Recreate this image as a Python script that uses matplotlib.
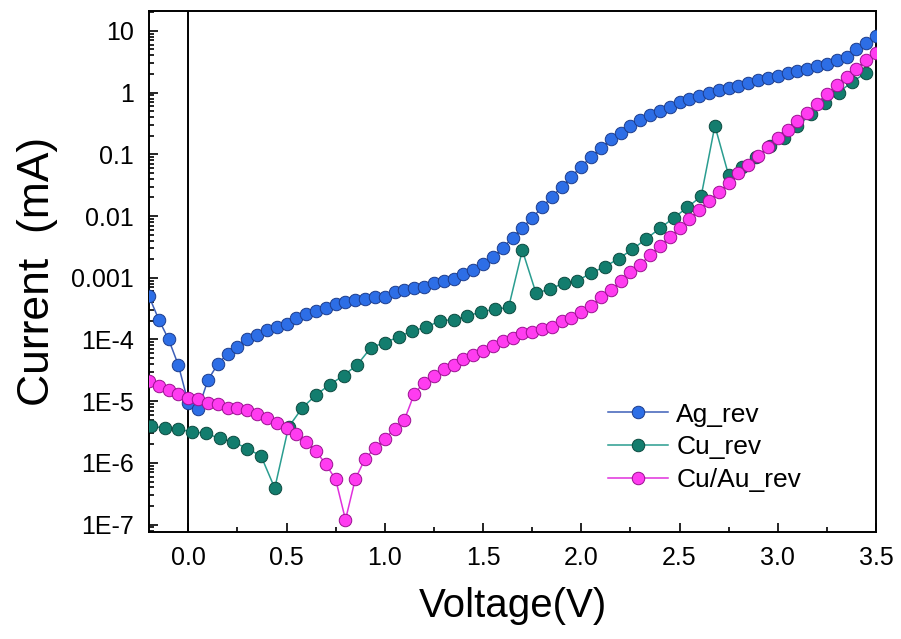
import matplotlib
matplotlib.use("Agg")
import matplotlib.pyplot as plt
from matplotlib.ticker import FixedLocator, FixedFormatter, LogLocator, NullFormatter, MultipleLocator

plt.rcParams['font.family'] = ['Liberation Sans', 'DejaVu Sans']

# ---------------- data (voltage in V, current in mA) ----------------
voltage_ag = [-0.20, -0.15, -0.10, -0.05, 0.00, 0.05, 0.10, 0.15, 0.20, 0.25,
              0.30, 0.35, 0.40, 0.45, 0.50, 0.55, 0.60, 0.65, 0.70, 0.75,
              0.80, 0.85, 0.90, 0.95, 1.00, 1.05, 1.10, 1.15, 1.20, 1.25,
              1.30, 1.35, 1.40, 1.45, 1.50, 1.55, 1.60, 1.65, 1.70, 1.75,
              1.80, 1.85, 1.90, 1.95, 2.00, 2.05, 2.10, 2.15, 2.20, 2.25,
              2.30, 2.35, 2.40, 2.45, 2.50, 2.55, 2.60, 2.65, 2.70, 2.75,
              2.80, 2.85, 2.90, 2.95, 3.00, 3.05, 3.10, 3.15, 3.20, 3.25,
              3.30, 3.35, 3.40, 3.45, 3.50]
current_ag = [5.0e-4, 2.1e-4, 1.0e-4, 3.8e-5, 9.3e-6, 7.4e-6, 2.2e-5, 4.0e-5, 5.9e-5, 7.6e-5,
              1.0e-4, 1.2e-4, 1.4e-4, 1.6e-4, 1.8e-4, 2.2e-4, 2.6e-4, 2.9e-4, 3.2e-4, 3.7e-4,
              4.0e-4, 4.3e-4, 4.5e-4, 4.9e-4, 4.9e-4, 5.8e-4, 6.3e-4, 6.8e-4, 7.1e-4, 8.1e-4,
              8.9e-4, 9.5e-4, 1.15e-3, 1.32e-3, 1.66e-3, 2.14e-3, 3.02e-3, 4.47e-3, 6.46e-3, 9.33e-3,
              1.38e-2, 2.04e-2, 2.95e-2, 4.37e-2, 6.31e-2, 9.12e-2, 0.126, 0.174, 0.224, 0.288,
              0.355, 0.427, 0.501, 0.589, 0.692, 0.776, 0.871, 1.00, 1.10, 1.17,
              1.29, 1.45, 1.58, 1.70, 1.86, 2.04, 2.24, 2.40, 2.69, 2.95,
              3.39, 3.80, 5.01, 6.46, 8.13]

voltage_cu = [-0.19, -0.12, -0.05, 0.02, 0.09, 0.16, 0.23, 0.30, 0.37, 0.44,
              0.51, 0.58, 0.65, 0.72, 0.79, 0.86, 0.93, 1.00, 1.07, 1.14,
              1.21, 1.28, 1.35, 1.42, 1.49, 1.56, 1.63, 1.70, 1.77, 1.84,
              1.91, 1.98, 2.05, 2.12, 2.19, 2.26, 2.33, 2.40, 2.47, 2.54,
              2.61, 2.68, 2.75, 2.82, 2.89, 2.96, 3.03, 3.10, 3.17, 3.24,
              3.31, 3.38, 3.45]
current_cu = [3.9e-6, 3.7e-6, 3.5e-6, 3.2e-6, 3.0e-6, 2.5e-6, 2.2e-6, 1.7e-6, 1.3e-6, 3.9e-7,
              3.8e-6, 7.8e-6, 1.26e-5, 1.86e-5, 2.6e-5, 3.9e-5, 7.4e-5, 8.9e-5, 1.10e-4, 1.38e-4,
              1.58e-4, 2.0e-4, 2.1e-4, 2.4e-4, 2.8e-4, 3.1e-4, 3.3e-4, 2.8e-3, 5.6e-4, 6.6e-4,
              8.1e-4, 8.9e-4, 1.2e-3, 1.51e-3, 2.04e-3, 2.88e-3, 4.27e-3, 6.31e-3, 9.33e-3, 1.38e-2,
              2.09e-2, 0.29, 4.57e-2, 6.17e-2, 9.12e-2, 0.135, 0.186, 0.288, 0.447, 0.676,
              1.00, 1.51, 2.09]

voltage_cuau = voltage_ag
current_cuau = [2.14e-5, 1.74e-5, 1.51e-5, 1.32e-5, 1.12e-5, 1.10e-5, 9.5e-6, 8.9e-6, 7.9e-6, 7.8e-6,
                7.1e-6, 6.2e-6, 5.4e-6, 4.5e-6, 3.7e-6, 2.9e-6, 2.2e-6, 1.55e-6, 9.5e-7, 5.4e-7,
                1.2e-7, 5.5e-7, 1.17e-6, 1.74e-6, 2.45e-6, 3.6e-6, 5.0e-6, 1.32e-5, 2.0e-5, 2.6e-5,
                3.3e-5, 3.9e-5, 4.8e-5, 5.6e-5, 6.6e-5, 7.8e-5, 9.3e-5, 1.07e-4, 1.26e-4, 1.32e-4,
                1.48e-4, 1.58e-4, 2.0e-4, 2.24e-4, 2.75e-4, 3.47e-4, 4.79e-4, 6.31e-4, 8.71e-4, 1.23e-3,
                1.62e-3, 2.34e-3, 3.24e-3, 4.57e-3, 6.31e-3, 8.91e-3, 1.26e-2, 1.78e-2, 2.45e-2, 3.39e-2,
                4.90e-2, 6.76e-2, 9.33e-2, 0.132, 0.182, 0.245, 0.347, 0.468, 0.661, 0.955,
                1.32, 1.82, 2.45, 3.39, 4.37]

series_labels = ["Ag_rev", "Cu_rev", "Cu/Au_rev"]

y_tick_values = [10, 1, 0.1, 0.01, 0.001, 1e-4, 1e-5, 1e-6, 1e-7]
y_tick_labels = ["10", "1", "0.1", "0.01", "0.001", "1E-4", "1E-5", "1E-6", "1E-7"]
x_tick_values = [0.0, 0.5, 1.0, 1.5, 2.0, 2.5, 3.0, 3.5]
x_tick_labels = ["0.0", "0.5", "1.0", "1.5", "2.0", "2.5", "3.0", "3.5"]

# ---------------- styling ----------------
styles = [
    dict(color="#3d5fb8", mfc="#2d6ee6", mec="#1c3c8c"),
    dict(color="#2a9d90", mfc="#137d6e", mec="#0b4a40"),
    dict(color="#e030dc", mfc="#ff3cf0", mec="#9a1090"),
]

fig = plt.figure(figsize=(9.01, 6.39), dpi=100)
ax = fig.add_axes([149 / 901, 1 - 532 / 639, 727 / 901, 521 / 639])

data = [(voltage_ag, current_ag), (voltage_cu, current_cu), (voltage_cuau, current_cuau)]
for k, ((v, c), lab, st) in enumerate(zip(data, series_labels, styles)):
    ax.plot(v, c, '-o', lw=1.1, ms=9.0, mew=0.7, label=lab, zorder=3 + k, **st)

ax.set_yscale('log')
ax.set_xlim(-0.2, 3.5)
ax.set_ylim(7.6e-8, 21)

ax.axvline(0.0, color='black', lw=1.4, zorder=2)

ax.yaxis.set_major_locator(FixedLocator(y_tick_values))
ax.yaxis.set_major_formatter(FixedFormatter(y_tick_labels))
ax.yaxis.set_minor_locator(LogLocator(base=10, subs=range(2, 10), numticks=50))
ax.yaxis.set_minor_formatter(NullFormatter())

ax.xaxis.set_major_locator(FixedLocator(x_tick_values))
ax.xaxis.set_major_formatter(FixedFormatter(x_tick_labels))
ax.xaxis.set_minor_locator(MultipleLocator(0.25))

ax.tick_params(which='both', direction='in', top=False, right=False, width=1.2, color='black')
ax.tick_params(which='major', length=6.5)
ax.tick_params(which='minor', length=3.5)
ax.tick_params(axis='x', which='major', labelsize=18, pad=10)
ax.tick_params(axis='y', which='major', labelsize=18, pad=11)

for s in ax.spines.values():
    s.set_linewidth(1.4)
    s.set_color('black')

ax.set_xlabel("Voltage(V)", fontsize=29, labelpad=12)
ax.set_ylabel("Current  (mA)", fontsize=32, labelpad=9)

leg = ax.legend(loc='upper left', bbox_to_anchor=(0.631, 0.2485), frameon=False,
                fontsize=19, handlelength=2.3, handletextpad=0.3, labelspacing=0.33,
                borderpad=0, borderaxespad=0)

fig.savefig("out.png", dpi=100)
